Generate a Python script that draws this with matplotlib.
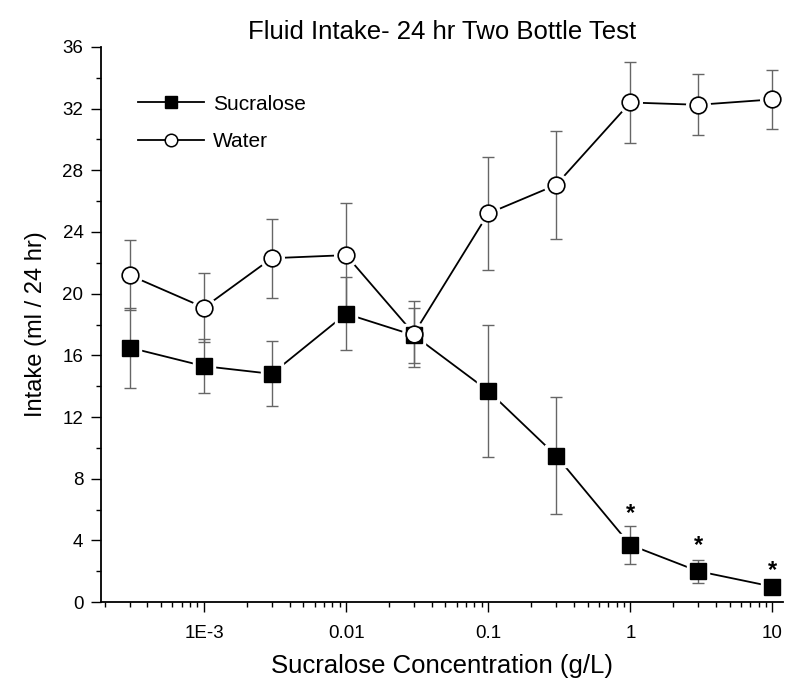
import numpy as np
import matplotlib
matplotlib.use("Agg")
import matplotlib.pyplot as plt
from matplotlib.ticker import LogLocator, FixedLocator, FixedFormatter, MultipleLocator

plt.rcParams['font.family'] = ['Liberation Sans', 'DejaVu Sans']

# concentrations (g/L)
conc = [0.0003, 0.001, 0.003, 0.01, 0.03, 0.1, 0.3, 1, 3, 10]

# sucralose intake and error
sucralose = [16.5, 15.3, 14.8, 18.7, 17.3, 13.7, 9.5, 3.7, 2.0, 1.0]
sucralose_err = [2.6, 1.75, 2.1, 2.35, 1.8, 4.27, 3.8, 1.25, 0.75, 0.3]

# water intake and error
water = [21.2, 19.1, 22.3, 22.5, 17.4, 25.2, 27.05, 32.4, 32.25, 32.6]
water_err = [2.25, 2.25, 2.55, 3.4, 2.15, 3.65, 3.5, 2.6, 1.97, 1.9]

# significance markers
star_conc = [1, 3, 10]
star_y = [5.75, 3.65, 2.05]

fig = plt.figure(figsize=(8, 6.96), dpi=100)
ax = fig.add_axes([0.126, 0.135, 0.853, 0.7975])

# connecting lines
ax.plot(conc, sucralose, '-', color='black', lw=1.3, zorder=1)
ax.plot(conc, water, '-', color='black', lw=1.3, zorder=1)
# white halo to leave a small gap between line and markers
ax.plot(conc, sucralose, 's', color='white', markersize=16, zorder=2)
ax.plot(conc, water, 'o', color='white', markersize=17, zorder=2)

ax.errorbar(conc, water, yerr=water_err, fmt='none', ecolor='#666666',
            elinewidth=1, capsize=4, capthick=1, zorder=3)
ax.errorbar(conc, sucralose, yerr=sucralose_err, fmt='none', ecolor='#666666',
            elinewidth=1, capsize=4, capthick=1, zorder=3)

ax.plot(conc, sucralose, 's', color='black', markersize=11.5,
        markerfacecolor='black', zorder=4)
ax.plot(conc, water, 'o', color='black', markersize=12,
        markerfacecolor='white', markeredgewidth=1.2, zorder=4)

# legend handles
ax.plot([], [], '-s', color='black', lw=1.3, markersize=8.5, label='Sucralose')
ax.plot([], [], '-o', color='black', lw=1.3, markersize=9, markerfacecolor='white',
        markeredgewidth=1.1, label='Water')

for xs, ys in zip(star_conc, star_y):
    ax.text(xs, ys, '*', ha='center', va='center', fontsize=17, fontweight='bold')

ax.set_xscale('log')
ax.set_xlim(1.88e-4, 11.9)
ax.set_ylim(0, 36)

ax.xaxis.set_major_locator(FixedLocator([1e-3, 1e-2, 1e-1, 1, 10]))
ax.xaxis.set_major_formatter(FixedFormatter(['1E-3', '0.01', '0.1', '1', '10']))
ax.xaxis.set_minor_locator(LogLocator(base=10, subs=np.arange(2, 10), numticks=20))
ax.yaxis.set_major_locator(MultipleLocator(4))
ax.yaxis.set_minor_locator(MultipleLocator(2))

ax.tick_params(which='major', direction='out', length=7.5, width=1, labelsize=13.5)
ax.tick_params(which='minor', direction='out', length=3.5, width=1)
ax.tick_params(axis='x', which='major', pad=9)
ax.tick_params(axis='y', which='major', pad=5)
ax.spines['top'].set_visible(False)
ax.spines['right'].set_visible(False)
ax.spines['left'].set_linewidth(1.3)
ax.spines['bottom'].set_linewidth(1.3)

ax.set_xlabel('Sucralose Concentration (g/L)', fontsize=18.5, labelpad=9)
ax.set_ylabel('Intake (ml / 24 hr)', fontsize=17, labelpad=11)
ax.set_title('Fluid Intake- 24 hr Two Bottle Test', fontsize=18.5, pad=6)

ax.legend(loc='upper left', bbox_to_anchor=(0.054, 0.914), frameon=False,
          fontsize=15, handlelength=3.2, handletextpad=0.4, labelspacing=0.9,
          borderpad=0, borderaxespad=0)

fig.savefig('out.png', dpi=100)
